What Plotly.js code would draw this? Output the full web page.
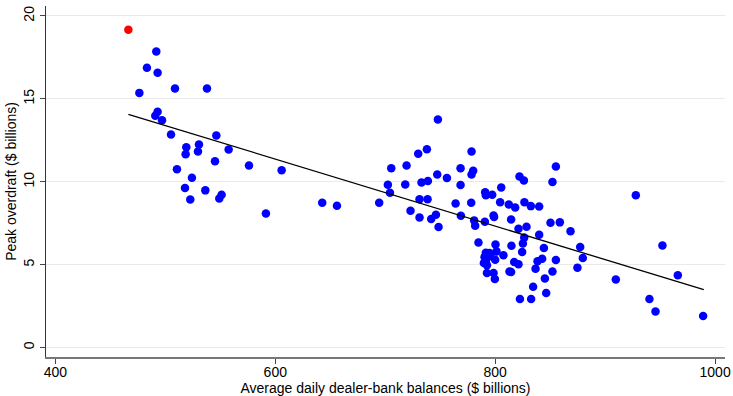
<!DOCTYPE html>
<html>
<head>
<meta charset="utf-8">
<script src="https://cdn.plot.ly/plotly-3.0.1.min.js"></script>
<style>html,body{margin:0;padding:0;background:#fff;}#chart{width:733px;height:396px;}</style>
</head>
<body>
<div id="chart"></div>
<script>
// Highlighted observation (red)
const highlightX = [466.4];
const highlightY = [19.17];

// Other observations: average daily dealer-bank balances ($ billions)
const balances = [
  491.8, 483.3, 493.0, 508.8, 537.9, 476.4, 493.0, 490.9, 497.0, 505.2,
  546.4, 519.1, 530.6, 518.5, 529.7, 557.6, 545.2, 576.1, 605.8, 510.6,
  524.2, 517.9, 536.4, 551.2, 549.1, 522.7, 591.5, 642.7, 656.1,
  747.9, 730.0, 737.9, 778.5, 705.5, 719.4, 747.3, 756.1, 768.5, 780.0,
  778.5, 702.4, 718.2, 733.0, 738.8, 768.5, 704.3, 694.5, 731.2, 738.5,
  764.0, 778.2, 723.0, 731.2, 741.8, 746.1, 768.8, 748.5, 790.9, 791.5,
  797.3, 805.5, 804.5, 780.9, 781.8, 790.6, 798.5, 799.0, 855.2, 852.1,
  822.1, 826.1, 812.4, 818.2, 826.6, 832.4, 840.0, 814.5, 850.3, 858.8,
  821.2, 828.5, 868.5, 784.8, 800.3, 814.8, 826.4, 825.2, 840.0, 844.3,
  877.3, 879.7, 874.8, 855.2, 842.7, 838.5, 836.7, 852.1, 845.2, 834.5,
  846.4, 822.5, 832.7, 824.5, 817.3, 821.2, 813.0, 814.5, 807.5, 800.0,
  801.2, 794.8, 791.5, 790.3, 791.8, 789.7, 792.5, 795.7, 792.5, 798.5,
  799.7,
  927.9, 952.1, 966.1, 909.7, 940.3, 945.8, 989.1
];
// Peak overdraft ($ billions)
const overdraft = [
  17.85, 16.87, 16.58, 15.62, 15.62, 15.36, 14.22, 13.98, 13.71, 12.85,
  12.79, 12.08, 12.25, 11.66, 11.83, 11.95, 11.24, 10.98, 10.70, 10.76,
  10.24, 9.62, 9.48, 9.22, 8.99, 8.93, 8.09, 8.73, 8.55,
  13.75, 11.69, 11.96, 11.83, 10.82, 10.98, 10.44, 10.22, 10.82, 10.66,
  10.44, 9.82, 9.84, 9.96, 10.04, 9.80, 9.34, 8.73, 8.95, 8.95,
  8.69, 8.73, 8.25, 7.85, 7.75, 8.01, 7.95, 7.27, 9.37, 9.19,
  9.22, 9.66, 8.77, 7.67, 7.35, 7.59, 7.97, 7.87, 10.92, 9.98,
  10.32, 10.08, 8.63, 8.45, 8.77, 8.53, 8.51, 7.73, 7.53, 7.55,
  7.17, 7.29, 7.02, 6.34, 6.22, 6.14, 6.63, 6.27, 6.81, 6.00,
  6.06, 5.40, 4.82, 5.28, 5.36, 5.20, 4.76, 4.58, 4.17, 3.67,
  3.29, 2.93, 2.93, 5.76, 5.16, 5.02, 4.58, 4.55, 5.56, 5.30,
  5.80, 5.70, 5.72, 5.46, 5.30, 5.10, 4.96, 5.52, 4.49, 4.49,
  4.13,
  9.19, 6.16, 4.36, 4.10, 2.93, 2.17, 1.90
];

// Fitted regression line (end points)
const fitX = [466.4, 989.7];
const fitY = [14.07, 3.49];

const xTicks = [400, 600, 800, 1000];
const yTicks = [0, 5, 10, 15, 20];

const font = {family: 'Liberation Sans, Arial, Helvetica, sans-serif', size: 14, color: '#000'};

const traces = [
  {x: balances, y: overdraft, type: 'scatter', mode: 'markers',
   marker: {color: '#0000ff', size: 8.5}, showlegend: false},
  {x: highlightX, y: highlightY, type: 'scatter', mode: 'markers',
   marker: {color: '#ff0000', size: 8.5}, showlegend: false},
  {x: fitX, y: fitY, type: 'scatter', mode: 'lines',
   line: {color: '#000', width: 1.3}, showlegend: false}
];

const layout = {
  width: 733, height: 396,
  margin: {l: 46, r: 8, t: 6, b: 39, pad: 0},
  paper_bgcolor: '#fff', plot_bgcolor: '#fff',
  font: font,
  showlegend: false,
  xaxis: {
    range: [391.5, 1009],
    tickvals: xTicks, ticktext: xTicks.map(String),
    ticks: 'outside', ticklen: 5, tickcolor: '#444', tickwidth: 1,
    showgrid: false, zeroline: false,
    showline: true, linecolor: '#777', linewidth: 2,
    tickfont: font, ticklabelstandoff: -4,
    title: {text: 'Average daily dealer-bank balances ($ billions)', font: font, standoff: 6}
  },
  yaxis: {
    range: [-0.57, 20.6],
    tickvals: yTicks, ticktext: yTicks.map(String),
    tickangle: -90,
    ticks: 'outside', ticklen: 5, tickcolor: '#444', tickwidth: 1,
    showgrid: true, gridcolor: '#eaeaea', gridwidth: 1,
    zeroline: false,
    showline: true, linecolor: '#333', linewidth: 1.3,
    tickfont: font,
    title: {text: 'Peak overdraft ($ billions)', font: font, standoff: 1}
  }
};

Plotly.newPlot('chart', traces, layout, {displayModeBar: false, staticPlot: true});
</script>
</body>
</html>
